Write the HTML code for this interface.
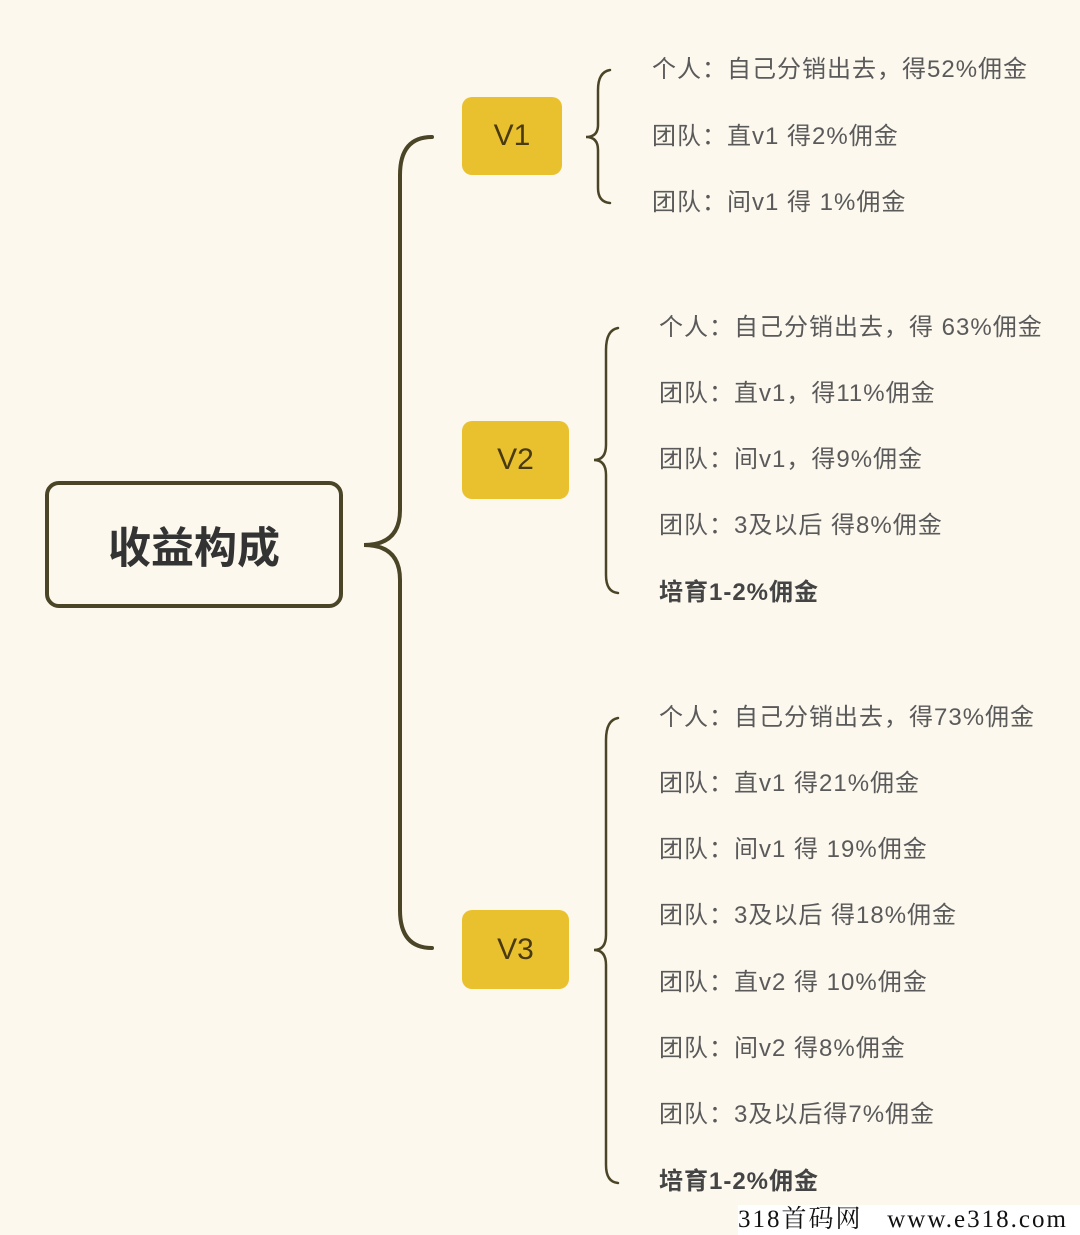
<!DOCTYPE html>
<html><head><meta charset="utf-8"><style>
body{margin:0;background:#fcf8ee;}
.c{position:relative;width:1080px;height:1235px;overflow:hidden;background:#fcf8ee;font-family:"Liberation Sans","Noto Sans CJK SC",sans-serif;}
.t{position:absolute;font-size:24px;color:#5a5a5a;white-space:nowrap;line-height:30px;letter-spacing:1px;}
.b{font-weight:bold;color:#444;}
.v{position:absolute;background:#e9c12e;border-radius:10px;color:#4a3a10;font-size:30px;display:flex;align-items:center;justify-content:center;}
</style></head><body><div class="c">
<svg width="1080" height="1235" style="position:absolute;left:0;top:0" fill="none" stroke="#4a4526" stroke-width="4" stroke-linecap="round">
<path d="M432 137 Q400 137 400 175 L400 510 Q400 545 364 545 Q400 545 400 580 L400 910 Q400 948 432 948"/>
<rect x="47" y="483" width="294" height="123" rx="12"/>
<g stroke-width="2.5">
<path d="M610 70 Q598 72 598 90 L598 125 Q598 137 586 137 Q598 137 598 150 L598 188 Q598 202 610 203"/>
<path d="M618 328 Q606 330 606 350 L606 445 Q606 460 594 460 Q606 460 606 475 L606 575 Q606 592 618 593"/>
<path d="M618 718 Q606 720 606 740 L606 935 Q606 950 594 950 Q606 950 606 965 L606 1165 Q606 1182 618 1183"/>
</g>
</svg>
<div style="position:absolute;left:47px;top:483px;width:294px;height:123px;display:flex;align-items:center;justify-content:center;font-size:43px;font-weight:bold;color:#333;">收益构成</div>
<div class="v" style="left:462px;top:97px;width:100px;height:78px">V1</div>
<div class="v" style="left:462px;top:421px;width:107px;height:78px">V2</div>
<div class="v" style="left:462px;top:910px;width:107px;height:79px">V3</div>
<div class="t" style="left:652px;top:55px">个人：自己分销出去，得52%佣金</div>
<div class="t" style="left:652px;top:122px">团队：直v1 得2%佣金</div>
<div class="t" style="left:652px;top:188px">团队：间v1 得 1%佣金</div>
<div class="t" style="left:659px;top:313px">个人：自己分销出去，得 63%佣金</div>
<div class="t" style="left:659px;top:379px">团队：直v1，得11%佣金</div>
<div class="t" style="left:659px;top:445px">团队：间v1，得9%佣金</div>
<div class="t" style="left:659px;top:511px">团队：3及以后 得8%佣金</div>
<div class="t b" style="left:659px;top:578px">培育1-2%佣金</div>
<div class="t" style="left:659px;top:703px">个人：自己分销出去，得73%佣金</div>
<div class="t" style="left:659px;top:769px">团队：直v1  得21%佣金</div>
<div class="t" style="left:659px;top:835px">团队：间v1 得 19%佣金</div>
<div class="t" style="left:659px;top:901px">团队：3及以后 得18%佣金</div>
<div class="t" style="left:659px;top:968px">团队：直v2 得 10%佣金</div>
<div class="t" style="left:659px;top:1034px">团队：间v2 得8%佣金</div>
<div class="t" style="left:659px;top:1100px">团队：3及以后得7%佣金</div>
<div class="t b" style="left:659px;top:1167px">培育1-2%佣金</div>
<div style="position:absolute;left:738px;top:1205px;width:342px;font-family:'Liberation Serif','Noto Serif CJK SC',serif;font-size:25px;color:#111;white-space:nowrap;line-height:30px;background:#fff;letter-spacing:2px">318首码网&nbsp;&nbsp;&nbsp;www.e318.com</div>
</div></body></html>
